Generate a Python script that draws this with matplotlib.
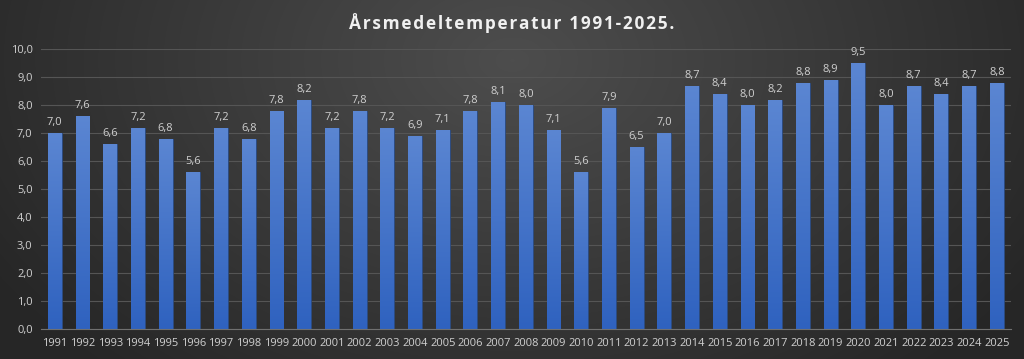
import numpy as np
import matplotlib
matplotlib.use("Agg")
import matplotlib.pyplot as plt
from matplotlib.colors import LinearSegmentedColormap

years = list(range(1991, 2026))
temps = [7.0, 7.6, 6.6, 7.2, 6.8, 5.6, 7.2, 6.8, 7.8, 8.2,
         7.2, 7.8, 7.2, 6.9, 7.1, 7.8, 8.1, 8.0, 7.1, 5.6,
         7.9, 6.5, 7.0, 8.7, 8.4, 8.0, 8.2, 8.8, 8.9, 9.5,
         8.0, 8.7, 8.4, 8.7, 8.8]
yticks = np.arange(0, 10.01, 1.0)
title = "Årsmedeltemperatur 1991-2025."

plt.rcParams["font.family"] = ["Open Sans", "DejaVu Sans"]
TXT = "#d0d0d0"

fig = plt.figure(figsize=(10.24, 3.59), dpi=100)

# radial background
bg = fig.add_axes([0, 0, 1, 1], zorder=-10)
yy, xx = np.mgrid[0:359, 0:1024]
r = np.sqrt(((xx - 512) / 620.0) ** 2 + ((yy - 60) / 420.0) ** 2)
r = np.clip(r, 0, 1)
bgcmap = LinearSegmentedColormap.from_list("bg", ["#4d4d4d", "#262626"])
bg.imshow(r, cmap=bgcmap, aspect="auto", vmin=0, vmax=1)
bg.set_axis_off()

ax = fig.add_axes([0.04, 0.083, 0.947, 0.78])
ax.set_facecolor("none")
x = np.arange(len(years))
bars = ax.bar(x, temps, width=0.5, color="#4472c4", edgecolor="#2a4a80",
              linewidth=0.6, zorder=3)

grad = LinearSegmentedColormap.from_list("bar", ["#2f62bf", "#5b86d2"])
gimg = np.linspace(0, 1, 256).reshape(-1, 1)
for b in bars:
    x0, w, h = b.get_x(), b.get_width(), b.get_height()
    im = ax.imshow(gimg, cmap=grad, extent=[x0, x0 + w, 0, h], origin="lower",
                   aspect="auto", zorder=3.5)
    im.set_clip_path(b)

for xi, v in zip(x, temps):
    ax.text(xi, v + 0.18, f"{v:.1f}".replace(".", ","), ha="center", va="bottom",
            color=TXT, fontsize=8)

ax.set_xlim(-0.5, len(years) - 0.5)
ax.set_ylim(0, 10)
ax.set_yticks(yticks)
ax.set_yticklabels([f"{t:.1f}".replace(".", ",") for t in yticks], color=TXT, fontsize=8)
ax.set_xticks(x)
ax.set_xticklabels([str(y) for y in years], color=TXT, fontsize=8)
ax.tick_params(length=0, pad=6)
ax.grid(True, axis="y", color="#555555", linewidth=0.8, zorder=0)
for s in ["top", "right", "left"]:
    ax.spines[s].set_visible(False)
ax.spines["bottom"].set_color("#707070")
ax.spines["bottom"].set_zorder(4)

# letter-spaced title
spaced = "\u200a".join(title)
fig.text(0.5, 0.935, spaced, ha="center", va="center", color="#f0f0f0",
         fontsize=12.4, fontweight="bold")

fig.savefig("out.png", dpi=100)
